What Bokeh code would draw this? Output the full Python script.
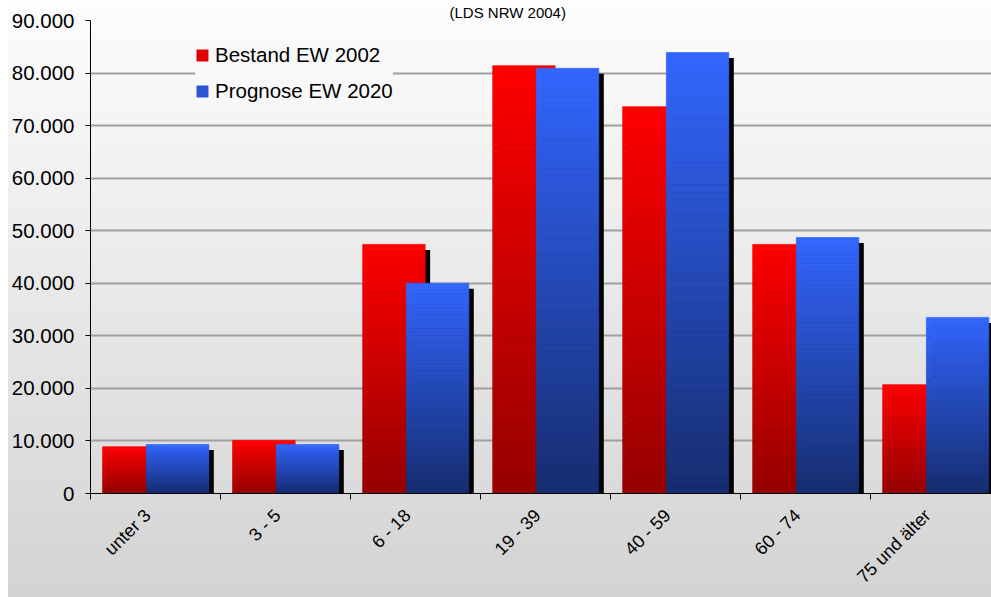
import numpy as np
from math import pi
from bokeh.plotting import figure
from bokeh.models import (Range1d, FixedTicker, Legend, LegendItem,
                          ColumnDataSource)
from bokeh.embed import file_html
from bokeh.resources import INLINE

# ---------------- data ----------------
categories = ["unter 3", "3 - 5", "6 - 18", "19 - 39", "40 - 59", "60 - 74", "75 und älter"]
bestand_2002 = [8900, 10100, 47400, 81400, 73600, 47400, 20700]
prognose_2020 = [9300, 9300, 40000, 80900, 83900, 48700, 33500]
series_names = ["Bestand EW 2002", "Prognose EW 2020"]
y_ticks = [0, 10000, 20000, 30000, 40000, 50000, 60000, 70000, 80000, 90000]
y_tick_labels = ["0", "10.000", "20.000", "30.000", "40.000", "50.000",
                 "60.000", "70.000", "80.000", "90.000"]
title_text = "(LDS NRW 2004)"

# ---------------- styling ----------------
FONT = "Liberation Sans"
W, H = 991, 597
LEFT, TOP, BOTTOM = 90, 20, 493
FRAME_W, FRAME_H = W - LEFT, BOTTOM - TOP
PX_PER_CAT = 130.0
X_END = FRAME_W / PX_PER_CAT
Y_END = 90000
BAR_W = 0.48
OFFSETS = [0.334, 0.67]
SHADOW_DX = 5 / PX_PER_CAT
SHADOW_DY = 5.5 * Y_END / FRAME_H
LABEL_SHIFT = -8 / PX_PER_CAT
N_STRIPS = 60
GRADS = [((255, 0, 0), (150, 0, 0)), ((51, 102, 255), (22, 45, 112))]

p = figure(width=W, height=H, output_backend="svg", toolbar_location=None,
           x_range=Range1d(0, X_END), y_range=Range1d(0, Y_END),
           min_border_left=LEFT, min_border_right=0, min_border_top=TOP,
           min_border_bottom=H - BOTTOM)
p.border_fill_alpha = 0
p.background_fill_alpha = 0
p.outline_line_color = None
p.styles = {"background": "linear-gradient(to right, #ffffff 8px, transparent 8px), "
                          "linear-gradient(to bottom, #fdfdfd 0%, #d3d3d3 100%)"}

# title (the reference shows only its lower edge at the very top)
p.title.text = title_text
p.title.text_font = FONT
p.title.text_font_size = "15px"
p.title.text_font_style = "normal"
p.title.text_color = "black"
p.title.align = "left"
p.title.standoff = 0
p.title.offset = 507 - LEFT - 58

# grid
p.xgrid.grid_line_color = None
p.ygrid.ticker = FixedTicker(ticks=y_ticks)
p.ygrid.grid_line_color = "#a0a0a0"
p.ygrid.grid_line_width = 2

# y axis
p.yaxis.ticker = FixedTicker(ticks=y_ticks)
p.yaxis.major_label_overrides = dict(zip(y_ticks, y_tick_labels))
p.yaxis.major_tick_in = 0
p.yaxis.major_tick_out = 5
p.yaxis.minor_tick_line_color = None
p.yaxis.axis_line_color = "black"
p.yaxis.major_tick_line_color = "black"
p.yaxis.major_label_text_font = FONT
p.yaxis.major_label_text_font_size = "20.5px"
p.yaxis.major_label_text_color = "black"
p.yaxis.major_label_standoff = 11

# x axis: labels near category centres, separator ticks at boundaries
centres = [i + 0.5 + LABEL_SHIFT for i in range(len(categories))]
bounds = list(range(len(categories) + 1))
p.xaxis.ticker = FixedTicker(ticks=centres, minor_ticks=bounds)
p.xaxis.major_label_overrides = dict(zip(centres, categories))
p.xaxis.major_tick_in = 0
p.xaxis.major_tick_out = 0
p.xaxis.minor_tick_in = 0
p.xaxis.minor_tick_out = 6
p.xaxis.minor_tick_line_color = "black"
p.xaxis.axis_line_color = "black"
p.xaxis.major_label_orientation = pi / 4
p.xaxis.major_label_text_font = FONT
p.xaxis.major_label_text_font_size = "18px"
p.xaxis.major_label_text_color = "black"
p.xaxis.major_label_standoff = 13

legend_items = []
for s, vals in enumerate([bestand_2002, prognose_2020]):
    vals = np.array(vals, dtype=float)
    xs = np.arange(len(categories)) + OFFSETS[s]
    # shadow
    p.vbar(x=xs + SHADOW_DX, width=BAR_W, bottom=0, top=vals - SHADOW_DY,
           fill_color="black", line_color=None)
    # gradient strips
    top_c, bot_c = GRADS[s]
    xx, b, t, cols = [], [], [], []
    for k in range(N_STRIPS):
        f0, f1 = k / N_STRIPS, (k + 1) / N_STRIPS
        fm = (f0 + f1) / 2
        c = tuple(int(round(bot_c[j] + (top_c[j] - bot_c[j]) * fm)) for j in range(3))
        hexc = "#%02x%02x%02x" % c
        for i in range(len(categories)):
            xx.append(xs[i]); b.append(f0 * vals[i]); t.append(f1 * vals[i]); cols.append(hexc)
    src = ColumnDataSource(dict(x=xx, bottom=b, top=t, color=cols))
    r = p.vbar(x="x", width=BAR_W, bottom="bottom", top="top", source=src,
               fill_color="color", line_color="color", line_width=0.7)
    legend_items.append(LegendItem(label=series_names[s], renderers=[r],
                                   index=int(N_STRIPS * 0.7) * len(categories)))

legend = Legend(items=legend_items, location=(105, 390))
legend.background_fill_color = "#f8f8f8"
legend.background_fill_alpha = 1
legend.border_line_color = None
legend.label_text_font = FONT
legend.label_text_font_size = "20.5px"
legend.label_text_color = "black"
legend.glyph_width = 14
legend.glyph_height = 14
legend.label_standoff = 6
legend.padding = 8
legend.spacing = 12
legend.margin = 0
p.add_layout(legend)

open("out.html", "w").write(file_html(p, INLINE))
